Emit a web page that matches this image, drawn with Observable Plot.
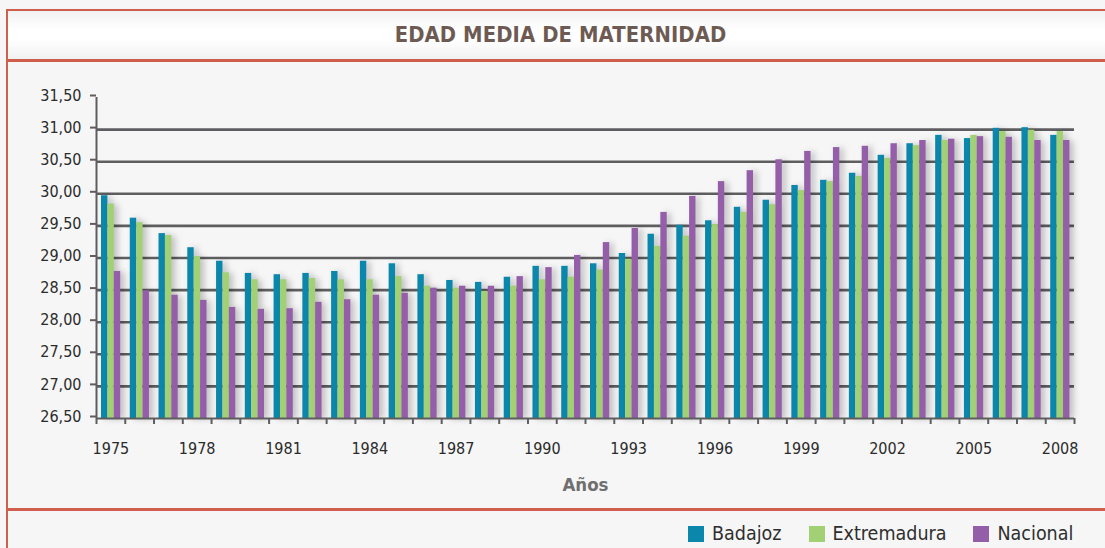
<!DOCTYPE html>
<html>
<head>
<meta charset="utf-8">
<script src="https://cdn.jsdelivr.net/npm/d3@7"></script>
<script src="https://cdn.jsdelivr.net/npm/@observablehq/plot@0.6"></script>
<style>
  html, body { margin: 0; padding: 0; }
  body { width: 1105px; height: 548px; position: relative; overflow: hidden; background: #f6f6f6; font-family: "DejaVu Sans Condensed", sans-serif; }
  .red { position: absolute; background: #cf5f4c; }
  #titleband { position: absolute; left: 8px; top: 11px; width: 1097px; height: 48px;
    background: linear-gradient(#f2f2f2, #ffffff 40%, #ffffff 60%, #f1f1f1); }
  #title { position: absolute; left: 0; width: 1121px; top: 22px; text-align: center;
    font-family: "DejaVu Sans Condensed", "DejaVu Sans", sans-serif; font-weight: bold; font-size: 21.8px;
    color: #6d5b53; letter-spacing: 0.1px; }
  #chart { position: absolute; left: 0; top: 61px; }
  #legend { position: absolute; top: 522px; left: 688px; display: flex; align-items: center;
    font-family: "DejaVu Sans Condensed", "DejaVu Sans", sans-serif; font-size: 19.5px; color: #2e2e2e; }
  .sw { width: 16px; height: 16px; display: inline-block; margin-right: 8px; }
  .item { display: flex; align-items: center; margin-right: 27px; }
  svg g[aria-label="rect"] { filter: drop-shadow(4px 1px 3px rgba(0,0,0,0.22)); }
</style>
</head>
<body>
<div id="titleband"></div>
<div class="red" style="left:6px; top:9px; width:1099px; height:2px;"></div>
<div class="red" style="left:6px; top:9px; width:2px; height:539px;"></div>
<div class="red" style="left:6px; top:59px; width:1099px; height:2.5px;"></div>
<div class="red" style="left:6px; top:508px; width:1099px; height:2.5px;"></div>
<div id="title">EDAD MEDIA DE MATERNIDAD</div>
<div id="chart"></div>
<div id="legend"></div>
<script>
// ---- Data ----
const years = [1975,1976,1977,1978,1979,1980,1981,1982,1983,1984,1985,1986,1987,1988,1989,1990,1991,1992,1993,1994,1995,1996,1997,1998,1999,2000,2001,2002,2003,2004,2005,2006,2007,2008];
const badajoz = [29.97,29.62,29.38,29.16,28.95,28.76,28.74,28.76,28.79,28.95,28.91,28.74,28.65,28.62,28.70,28.87,28.87,28.91,29.07,29.37,29.51,29.58,29.79,29.90,30.13,30.21,30.32,30.60,30.78,30.91,30.86,31.02,31.03,30.91];
const extremadura = [29.84,29.55,29.35,29.02,28.77,28.66,28.66,28.68,28.66,28.66,28.71,28.56,28.53,28.48,28.56,28.66,28.70,28.81,28.98,29.18,29.34,29.52,29.71,29.83,30.05,30.19,30.27,30.55,30.75,30.83,30.91,30.97,30.99,30.97];
const nacional = [28.79,28.49,28.42,28.34,28.23,28.20,28.21,28.31,28.35,28.42,28.45,28.53,28.56,28.56,28.71,28.85,29.04,29.24,29.46,29.71,29.96,30.19,30.36,30.53,30.66,30.72,30.74,30.78,30.83,30.85,30.89,30.88,30.83,30.83];
const seriesNames = ["Badajoz", "Extremadura", "Nacional"];
const seriesColors = ["#0b87ab", "#a2d175", "#945ea8"];
const yTicks = [26.5, 27, 27.5, 28, 28.5, 29, 29.5, 30, 30.5, 31, 31.5];
const gridValues = [27, 27.5, 28, 28.5, 29, 29.5, 30, 30.5, 31];
const labelYears = [1975, 1978, 1981, 1984, 1987, 1990, 1993, 1996, 1999, 2002, 2005, 2008];
const xLabel = "Años";

// ---- Build ----
const table = years.map((y, i) => ({year: y, Badajoz: badajoz[i], Extremadura: extremadura[i], Nacional: nacional[i]}));
const boundaries = years.map(y => y - 0.5).concat([years[years.length - 1] + 0.5]);

const W = 1105, H = 447, mL = 96, mR = 31, mT = 36, mB = 90;
const step = (W - mL - mR) / years.length;
const bw = 6.4, off0 = 5;
const fmt = v => d3.format(".2f")(v).replace(".", ",");
const yMin = yTicks[0];

const barMarks = seriesNames.map((name, k) => Plot.rectY(table, {
  x1: d => d.year - 0.5,
  x2: d => d.year + 0.5,
  y1: () => yMin,
  y2: name,
  fill: seriesColors[k],
  insetLeft: off0 + k * bw,
  insetRight: step - off0 - (k + 1) * bw
}));

const chart = Plot.plot({
  width: W, height: H,
  marginLeft: mL, marginRight: mR, marginTop: mT, marginBottom: mB,
  style: {background: "transparent", fontFamily: "'DejaVu Sans Condensed', sans-serif", fontSize: "16px", color: "#2b2b2b"},
  x: {domain: [years[0] - 0.5, years[years.length - 1] + 0.5]},
  y: {domain: [yTicks[0], yTicks[yTicks.length - 1]]},
  marks: [
    Plot.ruleY(gridValues, {stroke: "#5e5e61", strokeWidth: 2.6}),
    ...barMarks,
    Plot.ruleY([yMin], {stroke: "#5e5e61", strokeWidth: 2}),
    Plot.ruleX([boundaries[0]], {stroke: "#5e5e61", strokeWidth: 2}),
    Plot.axisY({ticks: yTicks, tickFormat: fmt, tickSize: 6, tickPadding: 9, stroke: "#5e5e61", strokeWidth: 2, fill: "#2b2b2b", fontSize: 16, dy: -2, label: null}),
    Plot.axisX({ticks: boundaries, tickFormat: () => "", tickSize: 6, stroke: "#5e5e61", strokeWidth: 2, label: null}),
    Plot.axisX({ticks: labelYears, tickFormat: d => String(d), tickSize: 0, tickPadding: 24, fill: "#2b2b2b", fontSize: 16, label: null}),
    Plot.text([xLabel], {frameAnchor: "bottom", dy: 72, fontSize: 18.5, fontWeight: "bold", fill: "#6f6f6f", lineAnchor: "bottom"})
  ]
});
document.getElementById("chart").appendChild(chart);

// ---- Legend ----
const legend = document.getElementById("legend");
seriesNames.forEach((n, k) => {
  const item = document.createElement("div");
  item.className = "item";
  item.innerHTML = `<span class="sw" style="background:${seriesColors[k]}"></span><span>${n}</span>`;
  legend.appendChild(item);
});
</script>
</body>
</html>
